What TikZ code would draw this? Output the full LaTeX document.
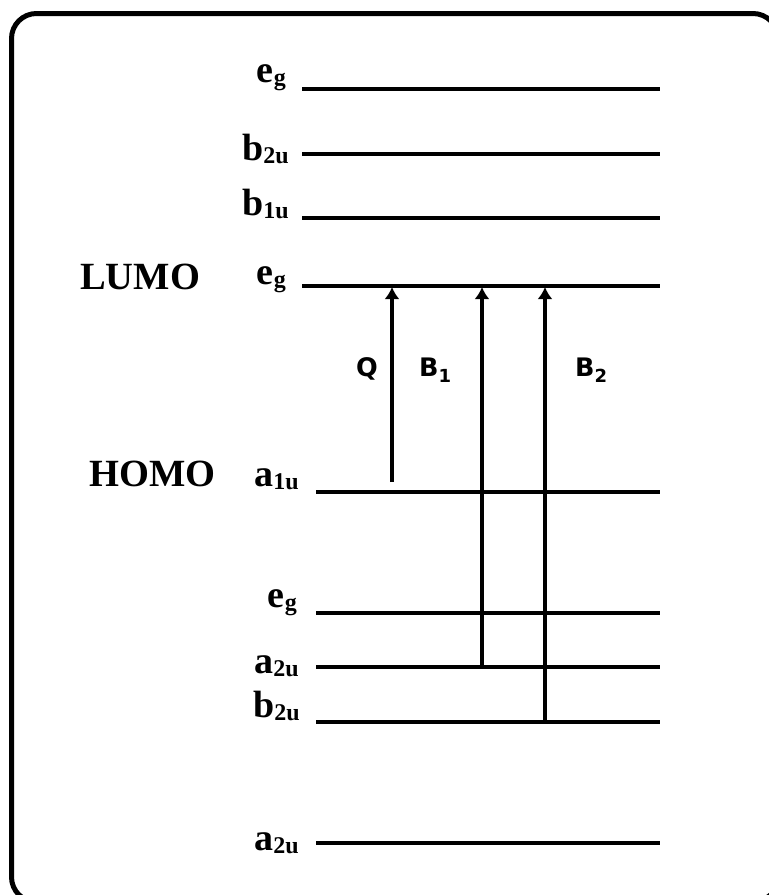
\documentclass[tikz,border=0pt]{standalone}
\usepackage{fontspec}
\setmainfont{Liberation Serif}
\newfontfamily\sansbold{DejaVu Sans}
\usetikzlibrary{arrows.meta}
\newcommand\orbsub[1]{\raisebox{-3pt}{\fontsize{24}{24}\selectfont #1}}
\newcommand\trsub[1]{\raisebox{-6pt}{\fontsize{18}{18}\selectfont #1}}
\begin{document}
\begin{tikzpicture}[x=1pt,y=-1pt,
  level/.style={line width=4pt},
  trans/.style={line width=4pt,-{Latex[length=12pt,width=15pt]}},
  orb/.style={anchor=base east,inner sep=0pt,font=\bfseries\fontsize{38}{38}\selectfont},
  homo/.style={anchor=base west,inner sep=0pt,font=\bfseries\fontsize{38.5}{38.5}\selectfont},
  tlab/.style={inner sep=0pt,font=\sansbold\bfseries\fontsize{25.5}{25.5}\selectfont},
  frame/.style={line width=5pt,rounded corners=25pt}]
\useasboundingbox (0,0) rectangle (769,895);
\clip (0,0) rectangle (769,895);
\draw[frame] (11.5,13.5) rectangle (778,902);

% levels
\coordinate (u4L) at (302,89);  \coordinate (u4R) at (660,89);
\coordinate (u3L) at (302,154); \coordinate (u3R) at (660,154);
\coordinate (u2L) at (302,218); \coordinate (u2R) at (660,218);
\coordinate (u1L) at (302,286); \coordinate (u1R) at (660,286);
\coordinate (o1L) at (316,492); \coordinate (o1R) at (660,492);
\coordinate (o2L) at (316,613); \coordinate (o2R) at (660,613);
\coordinate (o3L) at (316,667); \coordinate (o3R) at (660,667);
\coordinate (o4L) at (316,722); \coordinate (o4R) at (660,722);
\coordinate (o5L) at (316,843); \coordinate (o5R) at (660,843);
\foreach \l in {u4,u3,u2,u1,o1,o2,o3,o4,o5}{\draw[level] (\l L) -- (\l R);}

% orbital labels
\node[orb] (lu4) at (286,82)  {e\orbsub{g}};
\node[orb] (lu3) at (289,160) {b\orbsub{2u}};
\node[orb] (lu2) at (289,215) {b\orbsub{1u}};
\node[orb] (lu1) at (286,284) {e\orbsub{g}};
\node[orb] (lo1) at (299,486) {a\orbsub{1u}};
\node[orb] (lo2) at (297,607) {e\orbsub{g}};
\node[orb] (lo3) at (299,673) {a\orbsub{2u}};
\node[orb] (lo4) at (300,717) {b\orbsub{2u}};
\node[orb] (lo5) at (299,850) {a\orbsub{2u}};

\node[homo] (lumo) at (80,289) {LUMO};
\node[homo] (homo) at (89,486) {HOMO};

% transitions
\coordinate (qS) at (392,482);  \coordinate (qE) at (392,287);
\coordinate (b1S) at (482,667); \coordinate (b1E) at (482,287);
\coordinate (b2S) at (545,722); \coordinate (b2E) at (545,287);
\draw[trans] (qS) -- (qE);
\draw[trans] (b1S) -- (b1E);
\draw[trans] (b2S) -- (b2E);

\node[tlab,anchor=base east] (tq) at (378,376) {Q};
\node[tlab,anchor=base west] (tb1) at (419,376) {B\trsub{1}};
\node[tlab,anchor=base west] (tb2) at (575,376) {B\trsub{2}};
\end{tikzpicture}
\end{document}
